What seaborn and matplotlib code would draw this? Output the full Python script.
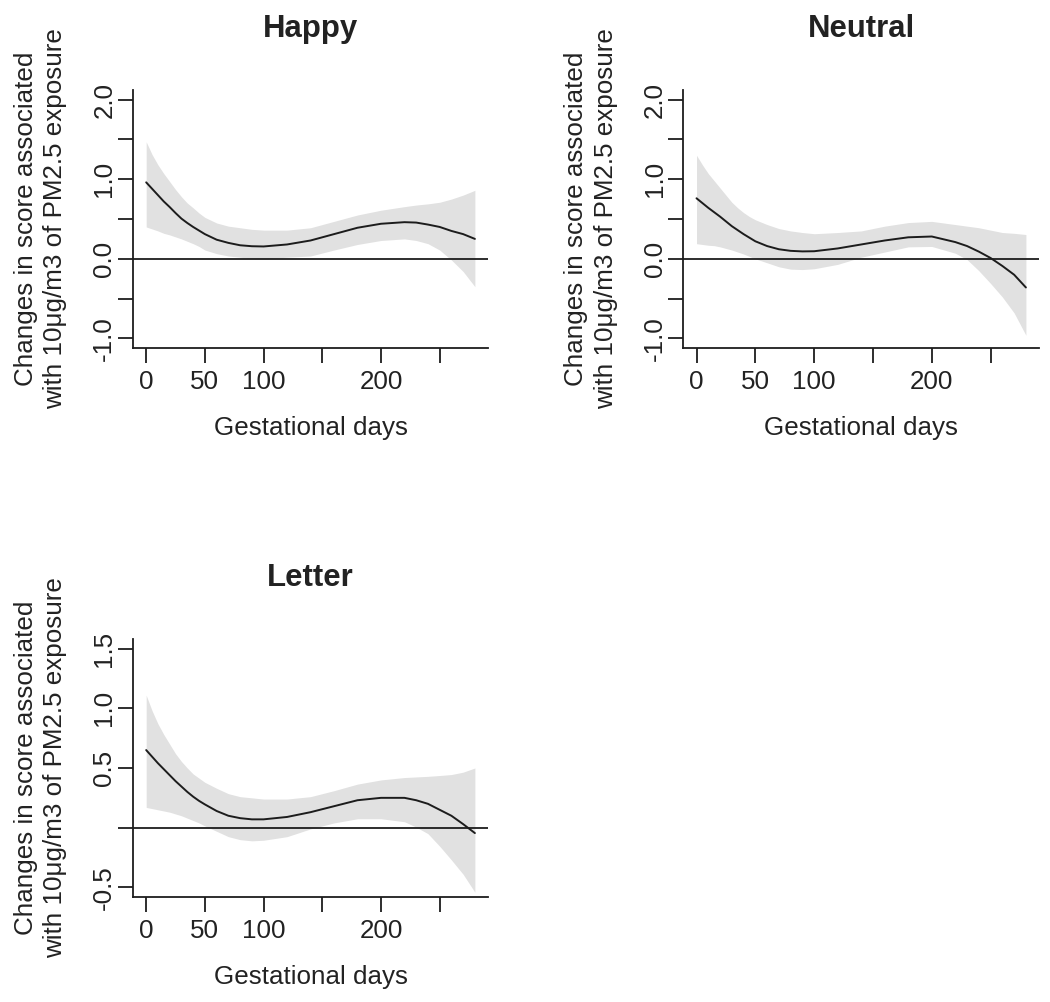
import matplotlib
matplotlib.use("Agg")
import matplotlib.pyplot as plt
import seaborn as sns

# Gestational day at which each estimate was read
days = [0, 5, 10, 15, 20, 25, 30, 35, 40, 45, 50, 60, 70, 80, 90, 100,
        120, 140, 160, 180, 200, 220, 230, 240, 250, 260, 270, 280]

# Happy
happy_fit = [0.96, 0.88, 0.80, 0.72, 0.65, 0.575, 0.505, 0.45, 0.40, 0.355, 0.31, 0.24, 0.20, 0.17, 0.158, 0.155,
             0.18, 0.23, 0.31, 0.39, 0.44, 0.46, 0.455, 0.43, 0.40, 0.35, 0.31, 0.25]
happy_lo = [0.40, 0.375, 0.35, 0.32, 0.30, 0.275, 0.25, 0.22, 0.19, 0.155, 0.11, 0.065, 0.035, 0.02, 0.005, 0.00,
            0.02, 0.035, 0.11, 0.18, 0.23, 0.25, 0.23, 0.19, 0.11, -0.015, -0.16, -0.35]
happy_hi = [1.47, 1.31, 1.18, 1.07, 0.97, 0.87, 0.78, 0.70, 0.64, 0.575, 0.52, 0.45, 0.41, 0.39, 0.37, 0.36,
            0.36, 0.39, 0.47, 0.55, 0.61, 0.655, 0.675, 0.69, 0.71, 0.75, 0.80, 0.86]

# Neutral
neutral_fit = [0.76, 0.70, 0.64, 0.585, 0.53, 0.47, 0.41, 0.36, 0.31, 0.265, 0.22, 0.16, 0.12, 0.10, 0.093, 0.095,
               0.13, 0.18, 0.23, 0.27, 0.28, 0.21, 0.16, 0.09, 0.01, -0.09, -0.20, -0.36]
neutral_lo = [0.19, 0.18, 0.17, 0.165, 0.15, 0.13, 0.11, 0.085, 0.06, 0.03, 0.0, -0.05, -0.10, -0.13, -0.135, -0.125,
              -0.07, 0.02, 0.085, 0.15, 0.155, 0.07, -0.01, -0.15, -0.31, -0.48, -0.68, -0.96]
neutral_hi = [1.30, 1.18, 1.07, 0.98, 0.89, 0.80, 0.71, 0.64, 0.58, 0.53, 0.49, 0.43, 0.38, 0.35, 0.33, 0.315,
              0.33, 0.35, 0.41, 0.455, 0.47, 0.43, 0.41, 0.39, 0.36, 0.33, 0.32, 0.305]

# Letter
letter_fit = [0.65, 0.595, 0.54, 0.49, 0.44, 0.39, 0.345, 0.30, 0.26, 0.225, 0.195, 0.14, 0.10, 0.08, 0.07, 0.07,
              0.09, 0.13, 0.18, 0.23, 0.25, 0.25, 0.23, 0.20, 0.15, 0.10, 0.03, -0.045]
letter_lo = [0.17, 0.16, 0.15, 0.14, 0.13, 0.115, 0.10, 0.08, 0.06, 0.04, 0.015, -0.03, -0.075, -0.10, -0.11, -0.105,
             -0.075, -0.01, 0.04, 0.075, 0.075, 0.05, 0.005, -0.05, -0.155, -0.27, -0.39, -0.54]
letter_hi = [1.11, 0.98, 0.87, 0.78, 0.70, 0.62, 0.555, 0.50, 0.45, 0.415, 0.38, 0.33, 0.285, 0.26, 0.25, 0.24,
             0.24, 0.26, 0.31, 0.365, 0.40, 0.42, 0.425, 0.43, 0.437, 0.445, 0.465, 0.50]

x_ticks = [0, 50, 100, 150, 200, 250]
x_ticklabels = ['0', '50', '100', '', '200', '']
wide_yticks = [-1.0, -0.5, 0.0, 0.5, 1.0, 1.5, 2.0]
wide_yticklabels = ['-1.0', '', '0.0', '', '1.0', '', '2.0']
letter_yticks = [-0.5, 0.0, 0.5, 1.0, 1.5]
letter_yticklabels = ['-0.5', '', '0.5', '1.0', '1.5']

sns.set_theme(style='ticks')
plt.rcParams['font.family'] = ['Liberation Sans', 'DejaVu Sans']
plt.rcParams['text.color'] = '#222222'
plt.rcParams['axes.labelcolor'] = '#222222'
plt.rcParams['xtick.color'] = '#222222'
plt.rcParams['ytick.color'] = '#222222'

fs = 18.7
ylab = 'Changes in score associated\nwith 10\u03bcg/m3 of PM2.5 exposure'

fig = plt.figure(figsize=(10.5, 10.02), dpi=100, facecolor='white')

panels = [
    ('Happy', happy_fit, happy_lo, happy_hi, (-1.12, 2.12), wide_yticks, wide_yticklabels,
     [0.1267, 0.6527, 0.3381, 0.2575]),
    ('Neutral', neutral_fit, neutral_lo, neutral_hi, (-1.12, 2.12), wide_yticks, wide_yticklabels,
     [0.6508, 0.6527, 0.3388, 0.2575]),
    ('Letter', letter_fit, letter_lo, letter_hi, (-0.58, 1.58), letter_yticks, letter_yticklabels,
     [0.1267, 0.1048, 0.3381, 0.2575]),
]

for title, fit, lo, hi, ylim, yt, ytl, rect in panels:
    ax = fig.add_axes(rect)
    ax.set_facecolor('white')

    # confidence band then the fitted curve
    ax.fill_between(days, lo, hi, color='#e1e1e1', linewidth=0)
    sns.lineplot(x=days, y=fit, ax=ax, color='#1c1c1c', linewidth=1.4)
    ax.axhline(0, color='#1c1c1c', linewidth=1.3)

    ax.set_xlim(-11.2, 291.2)
    ax.set_ylim(*ylim)
    ax.set_xticks(x_ticks)
    ax.set_xticklabels(x_ticklabels)
    ax.set_yticks(yt)
    ax.set_yticklabels(ytl, rotation=90, va='center')

    sns.despine(ax=ax)
    for side in ['left', 'bottom']:
        ax.spines[side].set_color('#1c1c1c')
        ax.spines[side].set_linewidth(1.3)

    ax.tick_params(axis='both', direction='out', length=11, width=1.3, labelsize=fs, color='#1c1c1c')
    ax.tick_params(axis='x', pad=5)
    ax.tick_params(axis='y', pad=1)

    ax.set_title(title, fontsize=fs * 1.2, fontweight='bold', pad=38)
    ax.set_xlabel('Gestational days', fontsize=fs, labelpad=16)
    ax.set_ylabel(ylab, fontsize=fs, labelpad=18, linespacing=1.3)

plt.savefig('out.png', dpi=100, facecolor='white')
